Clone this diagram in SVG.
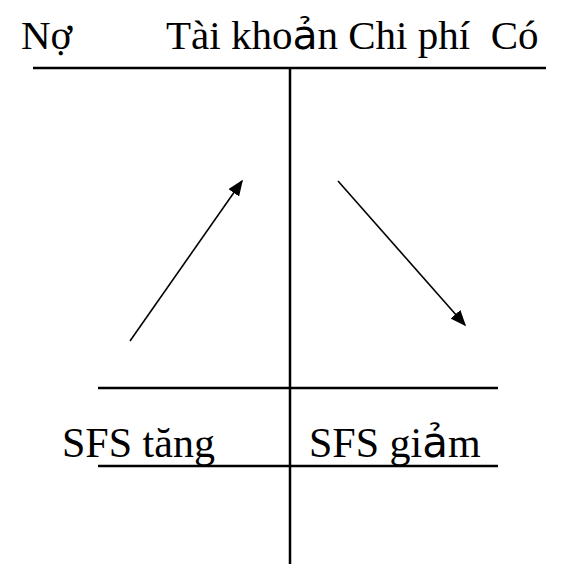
<svg xmlns="http://www.w3.org/2000/svg" width="569" height="564" viewBox="0 0 569 564">
<style>
.t{font-family:"Liberation Serif","Times New Roman",serif;font-size:41px;fill:#000;white-space:pre}
.b{font-size:42px}
.s{font-family:"DejaVu Sans",sans-serif}
.ln{stroke:#000;stroke-width:2.5;fill:none}
.ar{stroke:#000;stroke-width:1.6;fill:none}
</style>
<defs>
<marker id="ah" viewBox="0 0 10 10" refX="9" refY="5" markerWidth="16" markerHeight="13" markerUnits="userSpaceOnUse" orient="auto" preserveAspectRatio="none">
<path d="M0,0 L10,5 L0,10 z" fill="#000"/>
</marker>
</defs>
<g id="title">
<text class="t" x="21" y="49">Nợ</text>
<text class="t" x="166" y="49" xml:space="preserve">Tài kho<tspan class="s">ả</tspan>n Chi phí  Có</text>
</g>
<g id="taccount">
<line class="ln" x1="33" y1="68" x2="546" y2="68"/>
<line class="ln" x1="290" y1="68" x2="290" y2="564"/>
<line class="ln" x1="98" y1="388" x2="498" y2="388"/>
<line class="ln" x1="98" y1="466" x2="498" y2="466"/>
</g>
<g id="labels">
<text class="t b" x="62" y="457">SFS tăng</text>
<text class="t b" x="309" y="457">SFS gi<tspan class="s">ả</tspan>m</text>
</g>
<g id="connectors">
<line class="ar" x1="130" y1="341" x2="242" y2="181" marker-end="url(#ah)"/>
<line class="ar" x1="338" y1="181" x2="465" y2="325" marker-end="url(#ah)"/>
</g>
</svg>
